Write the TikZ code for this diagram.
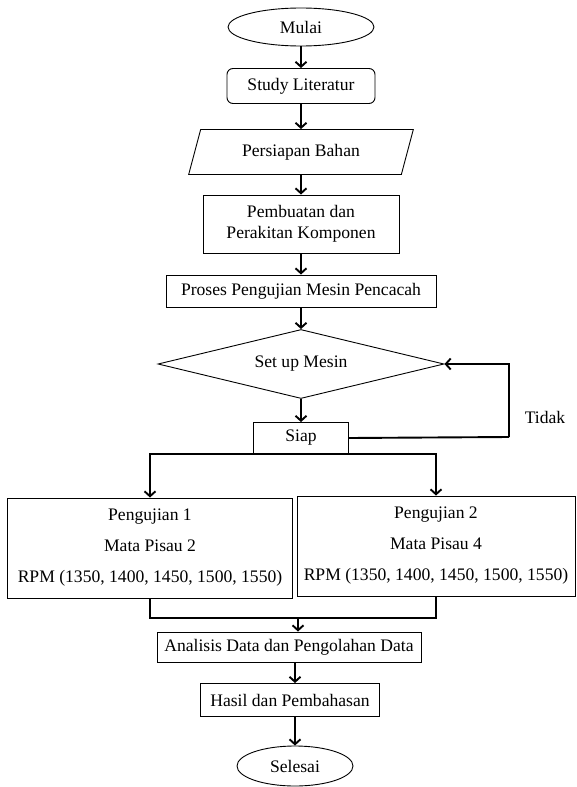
\documentclass[tikz,border=0pt]{standalone}
\usepackage{fontspec}
\setmainfont{Liberation Serif}
\usetikzlibrary{shapes.geometric,arrows.meta}

\begin{document}
\begin{tikzpicture}[x=1pt,y=-1pt,
  font=\fontsize{17.6}{21}\selectfont,
  box/.style={draw,line width=0.9pt,align=center,inner sep=2pt},
  oval/.style={draw,ellipse,line width=0.9pt,inner sep=0pt},
  flow/.style={line width=1.9pt,-{Straight Barb[length=5pt,width=11pt]}},
  wire/.style={line width=1.9pt}]
% page frame
\useasboundingbox (0,0) rectangle (576,787);

% main column
\node[oval,minimum width=146pt,minimum height=38pt] (mulai) at (301,27) {Mulai};
\node[box,rounded corners=6pt,minimum width=148pt,minimum height=35pt] (study) at (301,86) {Study Literatur};
\node[box,trapezium,trapezium left angle=70,trapezium right angle=110,trapezium stretches=true,
  minimum width=225pt,minimum height=45pt] (bahan) at (301,152) {Persiapan Bahan};
\node[box,minimum width=196pt,minimum height=58pt] (buat) at (301,224) {Pembuatan dan\\Perakitan Komponen};
\node[box,minimum width=270pt,minimum height=32pt] (proses) at (301,291) {Proses Pengujian Mesin Pencacah};
\node[box,diamond,aspect=4.1,minimum width=286pt,minimum height=69pt,inner sep=0pt] (setup) at (301,364) {Set up Mesin};
\node[box,minimum width=95pt,minimum height=31pt] (siap) at (301,438) {Siap};
\node (tidak) at (545,417) {Tidak};

% two tests
\node[box,minimum width=285pt,minimum height=100pt] (uji1) at (150,548)
  {Pengujian 1\\[10pt]Mata Pisau 2\\[10pt]RPM (1350, 1400, 1450, 1500, 1550)};
\node[box,minimum width=278pt,minimum height=100pt] (uji2) at (436,546)
  {Pengujian 2\\[10pt]Mata Pisau 4\\[10pt]RPM (1350, 1400, 1450, 1500, 1550)};

\node[box,minimum width=264pt,minimum height=30pt] (analisis) at (289,647) {Analisis Data dan Pengolahan Data};
\node[box,minimum width=179pt,minimum height=33pt] (hasil) at (290,700) {Hasil dan Pembahasan};
\node[oval,minimum width=116pt,minimum height=40pt] (selesai) at (295,766) {Selesai};

\coordinate (balik) at (509,437);
\coordinate (gabung) at (298,618);

% connectors
\draw[flow] (mulai) -- (study);
\draw[flow] (study) -- (bahan);
\draw[flow] (bahan) -- (buat);
\draw[flow] (buat) -- (proses);
\draw[flow] (proses) -- (setup);
\draw[flow] (setup) -- (siap);
\draw[wire] (siap.east) -- (balik);
\draw[flow] (balik) |- (setup.east);
\draw[flow] (siap.south) -| (uji1.north);
\draw[flow] (siap.south) -| (uji2.north);
\draw[wire] (uji1.south) |- (gabung);
\draw[wire] (uji2.south) |- (gabung);
\draw[flow] (gabung) -- (gabung |- analisis.north);
\draw[flow] ([xshift=6pt]analisis.south) -- ([xshift=6pt]analisis.south |- hasil.north);
\draw[flow] ([xshift=5pt]hasil.south) -- (selesai);
\end{tikzpicture}
\end{document}
